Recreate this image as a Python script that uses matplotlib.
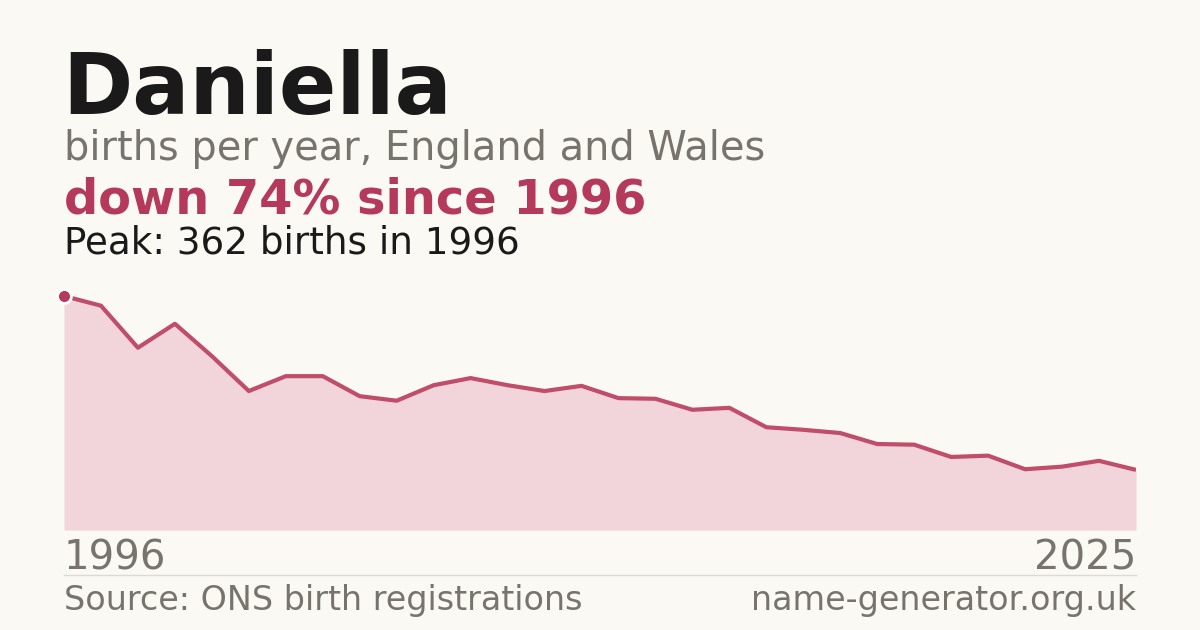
import matplotlib
matplotlib.use("Agg")
import matplotlib.pyplot as plt

years = list(range(1996, 2026))
births = [362, 347, 282, 319, 269, 215, 238, 238, 207, 200, 224, 235, 224, 215, 223,
          204, 203, 186, 189, 159, 155, 150, 133, 132, 113, 115, 94, 98, 107, 93]

W, H = 1200, 630
bg = "#faf9f4"
red = "#b5395a"
fig = plt.figure(figsize=(12, 6.3), dpi=100, facecolor=bg)

def px(x, y):
    return x / W, 1 - y / H

ax = fig.add_axes([64 / W, 1 - 530 / H, (1136 - 64) / W, (530 - 296) / H])
ax.set_facecolor(bg)
ax.fill_between(years, births, 0, color="#f2d5da", lw=0)
ax.plot(years, births, color="#c04d6a", lw=3, solid_capstyle="butt")
ax.plot([years[0]], [births[0]], "o", ms=10, color=red, mec="white", mew=2, clip_on=False, zorder=5)
ax.set_xlim(years[0], years[-1])
ax.set_ylim(0, max(births))
ax.axis("off")

fig.text(*px(62, 114), "Daniella", fontsize=61, fontweight="bold", color="#1a1a1a", va="baseline")
fig.text(*px(64, 160), "births per year, England and Wales", fontsize=28.7, color="#77736d", va="baseline")
fig.text(*px(64, 214), "down 74% since 1996", fontsize=34.5, fontweight="bold", color=red, va="baseline")
fig.text(*px(64, 254), "Peak: 362 births in 1996", fontsize=26.8, color="#1a1a1a", va="baseline")
fig.text(*px(64, 569), str(years[0]), fontsize=29, color="#77736d", va="baseline")
fig.text(*px(1136, 569), str(years[-1]), fontsize=29, color="#77736d", va="baseline", ha="right")
fig.add_artist(plt.Line2D([64 / W, 1136 / W], [1 - 575 / H] * 2, color="#dddad2", lw=1))
fig.text(*px(64, 610), "Source: ONS birth registrations", fontsize=24, color="#77736d", va="baseline")
fig.text(*px(1136, 610), "name-generator.org.uk", fontsize=24, color="#77736d", va="baseline", ha="right")

fig.savefig("out.png", dpi=100, facecolor=bg)
